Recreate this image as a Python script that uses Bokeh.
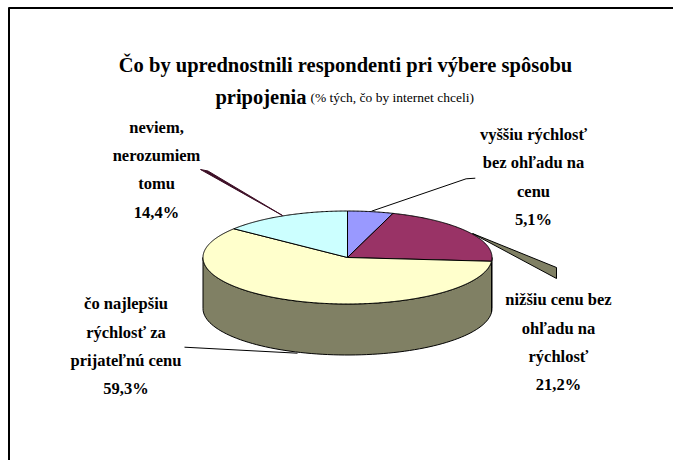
import numpy as np
from bokeh.plotting import figure
from bokeh.models import Range1d
from bokeh.core.properties import value
from bokeh.embed import file_html
from bokeh.resources import INLINE

# ---- data ----
categories = ["vyššiu rýchlosť\nbez ohľadu na\ncenu",
              "nižšiu cenu bez\nohľadu na\nrýchlosť",
              "čo najlepšiu\nrýchlosť za\nprijateľnú cenu",
              "neviem,\nnerozumiem\ntomu"]
shares = [5.1, 21.2, 59.3, 14.4]
top_colors = ["#9999FF", "#993366", "#FFFFCC", "#CCFFFF"]
side_colors = ["#4C4C80", "#4C1933", "#808064", "#668080"]
title_main = "Čo by uprednostnili respondenti pri výbere spôsobu"
title_bold2 = "pripojenia"
title_sub = "(% tých, čo by internet chceli)"

# ---- layout (data units = screen pixels, y downwards) ----
W, H = 673, 460
cx, cy, rx, ry, depth = 347.0, 257.0, 144.5, 46.5, 51.0
label_x = [533, 558, 125.5, 156]
label_y0 = [134, 299.3, 303.3, 126.7]
line_gap = 28.3
FONT = value("Liberation Serif")

p = figure(width=W, height=H, output_backend="svg", toolbar_location=None,
           x_range=Range1d(0, W), y_range=Range1d(H, 0),
           x_axis_type=None, y_axis_type=None, min_border=0,
           outline_line_color=None, background_fill_color="white")
p.grid.visible = False

def pt(theta_deg, dy=0.0):
    t = np.radians(theta_deg)
    return cx + rx * np.sin(t), cy - ry * np.cos(t) + dy

vals = np.array(shares, dtype=float)
ends = np.cumsum(vals / vals.sum()) * 360.0
starts = ends - vals / vals.sum() * 360.0

# leader wedge for "nižšiu cenu" (drawn under pie)
p.patch([472, 556, 556], [233, 267, 278], fill_color="#808064", line_color="black", line_width=1)

# sides (front half only)
sxs, sys, scol = [], [], []
for s, e, c in zip(starts, ends, side_colors):
    a, b = max(s, 90.0), min(e, 270.0)
    if b > a:
        th = np.linspace(a, b, 80)
        xt, yt = pt(th)
        xb, yb = pt(th[::-1], depth)
        sxs.append(list(np.concatenate([xt, xb])))
        sys.append(list(np.concatenate([yt, yb])))
        scol.append(c)
p.patches(sxs, sys, fill_color=scol, line_color="black", line_width=1)

# top faces
txs, tys = [], []
for s, e in zip(starts, ends):
    th = np.linspace(s, e, max(int((e - s) * 2), 8))
    x, y = pt(th)
    txs.append([cx] + list(x))
    tys.append([cy] + list(y))
p.patches(txs, tys, fill_color=top_colors, line_color="black", line_width=1)

# leader lines
p.line([371, 465.6, 474.8], [210.7, 178.3, 177.7], line_color="black", line_width=1)
p.patch([200, 207.5, 282], [169, 170.5, 215], fill_color="#3d0f26", line_color="#3d0f26", line_width=1)
p.line([184, 297], [346.7, 352.7], line_color="black", line_width=1)

# labels
tx, ty, tt = [], [], []
for lab, v, x0, y0 in zip(categories, shares, label_x, label_y0):
    lines = lab.split("\n") + [f"{v:.1f}".replace(".", ",") + "%"]
    for k, ln in enumerate(lines):
        tx.append(x0); ty.append(y0 + k * line_gap); tt.append(ln)
p.text(x=tx, y=ty, text=tt, text_font=FONT, text_font_style="bold",
       text_font_size=value("16.5px"), text_align="center", text_baseline="middle",
       text_color="black")

# title
p.text(x=[345], y=[64], text=[title_main], text_font=FONT, text_font_style="bold",
       text_font_size=value("20.5px"), text_align="center", text_baseline="middle", text_color="black")
p.text(x=[306], y=[96], text=[title_bold2], text_font=FONT, text_font_style="bold",
       text_font_size=value("20.5px"), text_align="right", text_baseline="middle", text_color="black")
p.text(x=[310], y=[97], text=[title_sub], text_font=FONT, text_font_style="normal",
       text_font_size=value("13.5px"), text_align="left", text_baseline="middle", text_color="black")

# frame (top and left edges visible in window)
p.line([8, W], [7.5, 7.5], line_color="black", line_width=2)
p.line([8.5, 8.5], [7, H], line_color="black", line_width=2)

open("out.html", "w").write(file_html(p, INLINE))
